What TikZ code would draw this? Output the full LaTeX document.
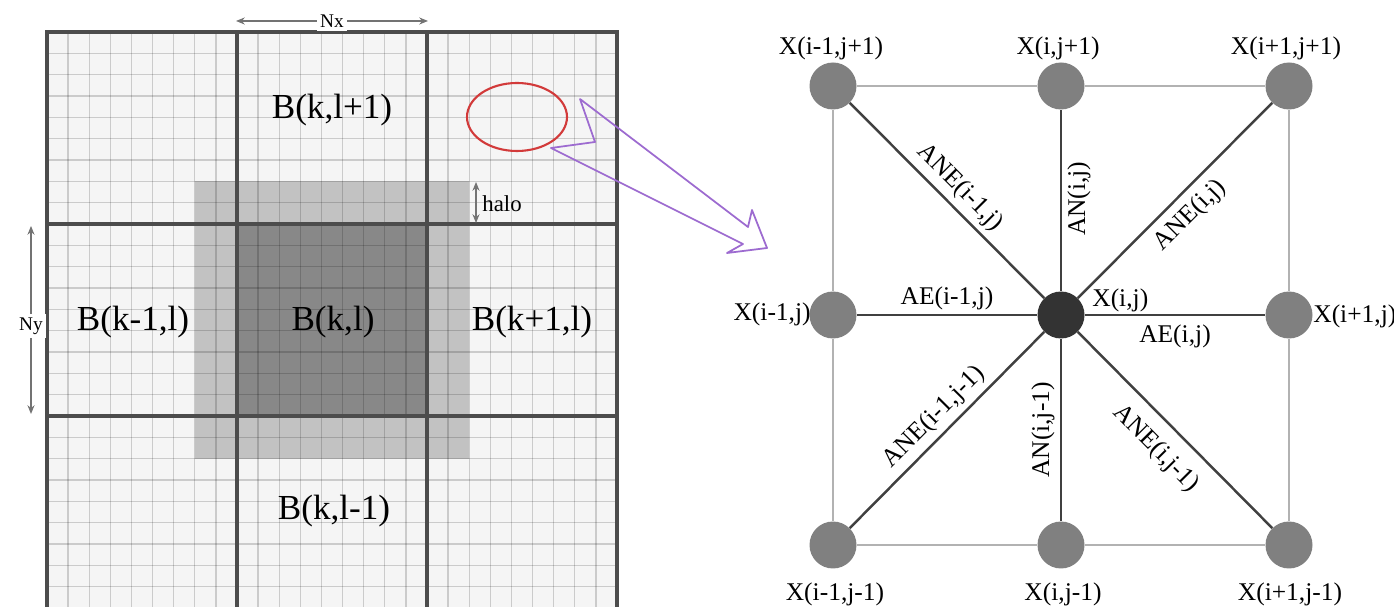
\documentclass[tikz,border=0pt]{standalone}
\usepackage{fontspec}
\setmainfont{Liberation Serif}
\usepackage{tikz}
\usetikzlibrary{arrows.meta}

\definecolor{blockgray}{HTML}{F5F5F5}
\definecolor{halogray}{HTML}{C2C2C2}
\definecolor{coregray}{HTML}{888888}
\definecolor{vertexgray}{HTML}{808080}
\definecolor{centregray}{HTML}{333333}
\definecolor{zoomred}{HTML}{D23A3A}
\definecolor{zoompurple}{HTML}{9D6BD0}

\begin{document}
\begin{tikzpicture}[
            x=0.02cm, y=-0.02cm,
            cellline/.style={draw=black, draw opacity=0.17, line width=0.8pt},
            blockline/.style={draw=black!70, line width=1.8pt, line cap=rect},
            dimarrow/.style={draw=black!55, line width=0.6pt, {Stealth[length=5pt,width=4pt]}-{Stealth[length=5pt,width=4pt]}},
            dimlabel/.style={fill=white, inner sep=2pt, font=\fontsize{11}{12}\selectfont},
            blocklabel/.style={font=\fontsize{20}{24}\selectfont},
            vertex/.style={circle, fill=vertexgray, minimum size=0.94cm, inner sep=0pt},
            centre/.style={vertex, fill=centregray},
            outeredge/.style={draw=black!30, line width=1.1pt},
            inneredge/.style={draw=black!75, line width=1.4pt},
            xlabel/.style={font=\fontsize{14.5}{16}\selectfont, inner sep=0pt},
            alabel/.style={font=\fontsize{14.5}{16}\selectfont, inner sep=3pt},
            zoomarrow/.style={draw=zoompurple, line width=1pt, line join=round},
        ]
            \useasboundingbox (0,0) rectangle (1394,607);

            %--- Blocks and halo ---%
            \fill[blockgray] (47,32) rectangle (617,608);
            \fill[halogray] (195,181) rectangle (469,459);
            \fill[coregray] (237,224) rectangle (427,416);
            \foreach \i in {1,...,26} {
                \draw[cellline] ({47+\i*570/27},32) -- ({47+\i*570/27},608);
                \draw[cellline] (47,{32+\i*576/27}) -- (617,{32+\i*576/27});
            }
            \foreach \x in {47,237,427,617} \draw[blockline] (\x,32) -- (\x,608);
            \foreach \y in {32,224,416} \draw[blockline] (47,\y) -- (617,\y);

            \node[blocklabel] (bt) at (332,110) {B(k,l+1)};
            \node[blocklabel] (bw) at (133,322) {B(k-1,l)};
            \node[blocklabel] (bc) at (333,322) {B(k,l)};
            \node[blocklabel] (be) at (532,322) {B(k+1,l)};
            \node[blocklabel] (bb) at (334,511) {B(k,l-1)};

            %--- Sizes ---%
            \coordinate (nxl) at (236,21);
            \coordinate (nxr) at (428,21);
            \draw[dimarrow] (nxl) -- (nxr);
            \node[dimlabel] (nx) at (332,21) {Nx};
            \coordinate (nyt) at (31,226);
            \coordinate (nyb) at (31,414);
            \draw[dimarrow] (nyt) -- (nyb);
            \node[dimlabel] (ny) at (31,326) {Ny};
            \coordinate (hat) at (476,182);
            \coordinate (hab) at (476,223);
            \draw[dimarrow] (hat) -- (hab);
            \node[font=\fontsize{13}{14}\selectfont, inner sep=0pt, anchor=west] (halo) at (482,204) {halo};

            %--- Zoom mark ---%
            \draw[zoomred, line width=1.2pt] (517,117) ellipse [x radius=50, y radius=34];
            \draw[zoomarrow] (580,99) -- (748,227) -- (752,210) -- (767,248) -- (727,253)
                -- (743,244) -- (551,148) -- (595,142) -- cycle;

            %--- Stencil nodes ---%
            \node[vertex] (nw) at (833,86) {};
            \node[vertex] (n)  at (1061,86) {};
            \node[vertex] (ne) at (1289,86) {};
            \node[vertex] (w)  at (833,315) {};
            \node[centre] (c)  at (1061,315) {};
            \node[vertex] (e)  at (1289,315) {};
            \node[vertex] (sw) at (833,545) {};
            \node[vertex] (s)  at (1061,545) {};
            \node[vertex] (se) at (1289,545) {};

            %--- Outer edges (light) ---%
            \draw[outeredge] (nw) -- (n);
            \draw[outeredge] (n) -- (ne);
            \draw[outeredge] (nw) -- (w);
            \draw[outeredge] (w) -- (sw);
            \draw[outeredge] (sw) -- (s);
            \draw[outeredge] (s) -- (se);
            \draw[outeredge] (ne) -- (e);
            \draw[outeredge] (e) -- (se);

            %--- Coefficients (dark) ---%
            \draw[inneredge] (nw) -- node[alabel, sloped, above, pos=0.5] {ANE(i-1,j)} (c);
            \draw[inneredge] (c) -- node[alabel, sloped, below, pos=0.51] {AN(i,j)} (n);
            \draw[inneredge] (c) -- node[alabel, sloped, below, pos=0.5, inner sep=5pt] {ANE(i,j)} (ne);
            \draw[inneredge] (w) -- node[alabel, above, pos=0.5, inner sep=2pt] {AE(i-1,j)} (c);
            \draw[inneredge] (c) -- node[alabel, below, pos=0.5, inner sep=5pt] {AE(i,j)} (e);
            \draw[inneredge] (sw) -- node[alabel, sloped, above, pos=0.5] {ANE(i-1,j-1)} (c);
            \draw[inneredge] (s) -- node[alabel, sloped, above, pos=0.5] {AN(i,j-1)} (c);
            \draw[inneredge] (c) -- node[alabel, sloped, below, pos=0.5, inner sep=8pt] {ANE(i,j-1)} (se);

            %--- Node names ---%
            \node[xlabel] (lnw) at (831,48) {X(i-1,j+1)};
            \node[xlabel] (ln)  at (1058,48) {X(i,j+1)};
            \node[xlabel] (lne) at (1286,48) {X(i+1,j+1)};
            \node[xlabel, anchor=east] (lw) at (811,314) {X(i-1,j)};
            \node[xlabel, anchor=west] (lc) at (1092,300) {X(i,j)};
            \node[xlabel, anchor=west] (le) at (1313,316) {X(i+1,j)};
            \node[xlabel] (lsw) at (835,594) {X(i-1,j-1)};
            \node[xlabel] (ls)  at (1063,594) {X(i,j-1)};
            \node[xlabel] (lse) at (1290,594) {X(i+1,j-1)};

        \end{tikzpicture}
\end{document}
